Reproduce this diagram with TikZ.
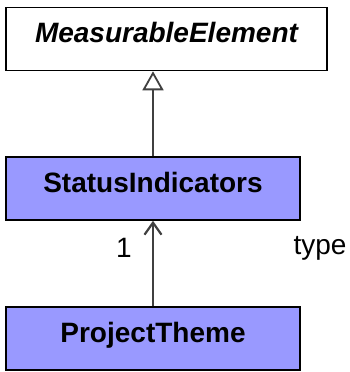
\documentclass[tikz,border=0pt]{standalone}
\usepackage{fontspec}
\setmainfont{Liberation Sans}
\usepackage{xcolor}
\usetikzlibrary{arrows.meta, positioning}

\definecolor{classblue}{HTML}{9999FF}
\definecolor{linegray}{HTML}{404040}

\begin{document}
\begin{tikzpicture}[
    x=1pt, y=1pt,
    node distance=86pt,
    umlclass/.style={rectangle, draw=black, line width=1.6pt, minimum width=294pt, minimum height=63pt, inner sep=0pt, text height=26pt, text depth=18pt, font=\fontsize{28}{32}\selectfont\bfseries, align=center},
    abstractclass/.style={umlclass, fill=white, minimum width=321pt, font=\fontsize{28}{32}\selectfont\bfseries\itshape},
    concreteclass/.style={umlclass, fill=classblue},
    inherit/.style={-{Triangle[open, width=21pt, length=19pt, line width=1.8pt]}, line width=2.4pt, draw=linegray},
    assoc/.style={-{Straight Barb[width=17pt, length=12pt, line width=2.2pt]}, line width=2.4pt, draw=linegray},
    rolelabel/.style={font=\fontsize{28}{32}\selectfont}
]
\useasboundingbox (0,0) rectangle (349,372);
\node (measurable) [abstractclass] at (166.5,333) {MeasurableElement};
\node (status) [concreteclass] at (153,183.5) {StatusIndicators};
\node (theme) [concreteclass] at (153,33.5) {ProjectTheme};
\draw [inherit] (status.north) -- (status.north |- measurable.south);
\draw [assoc] (theme.north) -- (status.south)
    node[rolelabel, pos=0.68, xshift=-29pt] {1}
    node[rolelabel, pos=0.68, xshift=167pt] {type};
\end{tikzpicture}
\end{document}
